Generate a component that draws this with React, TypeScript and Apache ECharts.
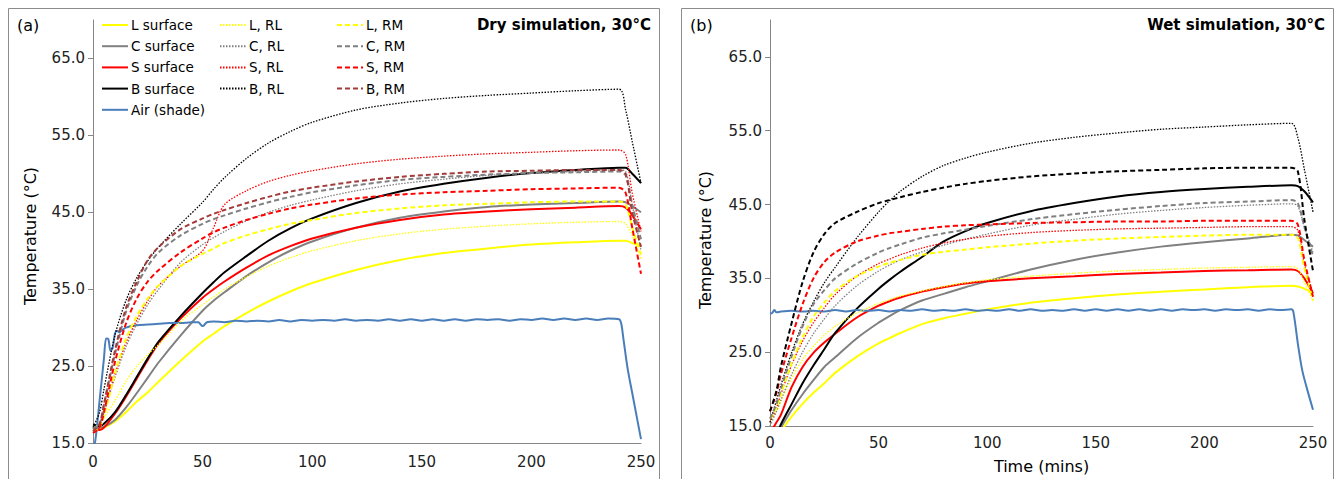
import React, { useEffect, useRef } from "react";
import * as echarts from "echarts";

// Sample times (minutes) shared by the surface / RL / RM traces
const TIME = [0, 3, 5, 10, 15, 20, 25, 30, 40, 50, 55, 60, 70, 80, 90, 100, 120, 140, 160, 180, 200, 220, 240, 243, 246, 250];

// ---- (a) Dry simulation, 30°C ----
const A_L_SURF = [17.0, 16.9, 17.0, 17.8, 19.0, 20.4, 21.6, 23.0, 25.7, 28.2, 29.2, 30.2, 31.9, 33.4, 34.7, 35.8, 37.5, 38.8, 39.7, 40.3, 40.8, 41.1, 41.3, 41.3, 41.0, 40.6];
const A_C_SURF = [17.2, 17.0, 17.1, 18.0, 19.6, 21.5, 23.5, 25.5, 29.0, 32.2, 33.5, 34.6, 36.7, 38.5, 40.0, 41.2, 43.0, 44.3, 45.1, 45.7, 46.0, 46.2, 46.4, 46.3, 45.8, 45.0];
const A_S_SURF = [16.9, 16.7, 17.0, 18.8, 21.0, 23.4, 25.8, 28.0, 31.2, 33.9, 35.0, 36.0, 37.8, 39.4, 40.6, 41.6, 43.0, 44.0, 44.7, 45.1, 45.4, 45.6, 45.8, 45.6, 44.6, 42.8];
const A_B_SURF = [17.4, 17.2, 17.5, 19.0, 21.2, 23.6, 26.0, 28.2, 31.5, 34.5, 35.9, 37.2, 39.3, 41.3, 42.9, 44.2, 46.2, 47.7, 48.7, 49.5, 50.1, 50.5, 50.8, 50.8, 50.0, 48.8];
const A_L_RL = [17.0, 17.5, 18.3, 20.5, 23.0, 25.0, 26.5, 27.8, 30.8, 33.0, 34.0, 35.0, 36.6, 38.0, 39.1, 40.0, 41.3, 42.2, 42.8, 43.2, 43.5, 43.7, 43.8, 43.5, 42.0, 39.0];
const A_C_RL = [16.8, 17.5, 19.0, 23.5, 27.5, 30.5, 33.0, 35.0, 38.5, 40.8, 41.7, 42.5, 43.9, 45.0, 45.9, 46.6, 47.8, 48.7, 49.3, 49.8, 50.1, 50.3, 50.5, 50.3, 46.0, 40.0];
const A_S_RL = [16.5, 17.0, 19.0, 24.0, 28.0, 31.0, 33.5, 35.5, 38.0, 40.0, 43.0, 46.0, 47.8, 49.0, 49.8, 50.4, 51.3, 51.9, 52.3, 52.6, 52.8, 53.0, 53.1, 52.5, 47.5, 42.5];
const A_B_RL = [17.0, 19.0, 22.0, 29.0, 33.5, 36.5, 38.7, 40.5, 43.5, 46.3, 48.0, 49.5, 52.0, 54.0, 55.5, 56.7, 58.3, 59.2, 59.8, 60.2, 60.5, 60.8, 61.0, 58.3, 54.2, 48.8];
const A_L_RM = [16.5, 17.0, 18.5, 24.0, 28.5, 31.5, 33.8, 35.5, 38.0, 39.6, 40.3, 41.0, 42.0, 42.8, 43.5, 44.0, 44.9, 45.5, 45.9, 46.1, 46.3, 46.4, 46.4, 46.0, 43.0, 39.5];
const A_C_RM = [16.8, 17.5, 20.0, 26.5, 32.0, 35.5, 38.0, 39.8, 42.0, 43.5, 44.1, 44.6, 45.5, 46.3, 47.0, 47.6, 48.5, 49.2, 49.6, 49.9, 50.1, 50.2, 50.3, 49.8, 46.0, 41.5];
const A_S_RM = [16.3, 17.0, 19.0, 25.5, 30.5, 33.8, 36.0, 37.5, 39.8, 41.6, 42.4, 43.0, 44.0, 44.8, 45.5, 46.0, 46.8, 47.3, 47.6, 47.8, 48.0, 48.1, 48.2, 47.5, 43.0, 37.0];
const A_B_RM = [16.5, 17.5, 20.0, 27.0, 32.5, 36.0, 38.8, 40.5, 42.8, 44.2, 44.8, 45.3, 46.2, 47.0, 47.7, 48.2, 49.0, 49.6, 50.0, 50.3, 50.4, 50.5, 50.5, 50.0, 45.0, 40.5];

const A_AIR_TIME = [0, 1, 3, 5, 6, 7, 8, 9, 10, 11, 12, 13, 15, 20, 25, 30, 35, 40, 45, 48, 50, 52, 55, 60, 65, 70, 75, 80, 85, 90, 95, 100, 105, 110, 115, 120, 125, 130, 135, 140, 145, 150, 155, 160, 165, 170, 175, 180, 185, 190, 195, 200, 205, 210, 215, 220, 225, 230, 235, 240, 241, 242, 244, 246, 248, 250];
const A_AIR = [14.5, 15.2, 20.5, 26.0, 28.6, 28.5, 27.0, 27.4, 29.2, 29.6, 29.4, 29.6, 30.0, 30.3, 30.4, 30.5, 30.6, 30.6, 30.7, 30.7, 30.2, 30.7, 30.8, 30.7, 30.9, 30.8, 30.9, 30.8, 31.0, 30.8, 31.0, 30.9, 31.0, 30.9, 31.1, 30.9, 31.0, 30.9, 31.1, 30.9, 31.1, 30.9, 31.1, 30.9, 31.1, 30.9, 31.1, 31.0, 31.1, 30.9, 31.1, 31.0, 31.2, 31.0, 31.2, 31.0, 31.2, 31.0, 31.2, 31.1, 30.5, 28.5, 24.5, 21.5, 18.5, 15.5];

// ---- (b) Wet simulation, 30°C ----
const B_L_SURF = [12.5, 13.5, 14.3, 16.3, 18.0, 19.5, 20.8, 22.2, 24.4, 26.2, 26.9, 27.6, 28.8, 29.6, 30.2, 30.8, 31.7, 32.3, 32.8, 33.2, 33.5, 33.8, 34.0, 33.9, 33.6, 33.0];
const B_C_SURF = [13.0, 14.0, 14.8, 17.2, 19.3, 21.2, 23.0, 24.3, 26.9, 29.0, 29.9, 30.7, 32.0, 32.9, 33.8, 34.6, 36.2, 37.5, 38.5, 39.3, 39.9, 40.4, 40.9, 40.8, 40.2, 39.3];
const B_S_SURF = [14.0, 15.5, 16.5, 20.3, 23.0, 24.9, 26.3, 27.5, 29.7, 31.3, 31.9, 32.4, 33.2, 33.8, 34.3, 34.6, 35.0, 35.3, 35.6, 35.8, 36.0, 36.1, 36.2, 36.0, 35.0, 33.0];
const B_B_SURF = [12.5, 13.8, 15.2, 18.0, 20.8, 23.2, 25.4, 27.6, 30.9, 33.6, 34.8, 35.9, 37.9, 40.0, 41.4, 42.5, 44.1, 45.2, 46.1, 46.7, 47.1, 47.4, 47.6, 47.5, 46.8, 45.3];
const B_L_RL = [15.5, 17.0, 18.3, 21.5, 24.0, 25.8, 27.3, 28.5, 30.3, 31.6, 32.1, 32.6, 33.3, 33.9, 34.4, 34.8, 35.3, 35.7, 36.0, 36.2, 36.4, 36.5, 36.6, 36.3, 34.5, 32.0];
const B_C_RL = [15.0, 17.0, 18.5, 22.0, 25.0, 27.5, 29.5, 31.3, 34.0, 36.0, 36.8, 37.5, 38.6, 39.5, 40.3, 41.0, 42.2, 43.0, 43.7, 44.2, 44.6, 44.9, 45.1, 44.8, 42.0, 38.5];
const B_S_RL = [15.5, 17.5, 19.3, 23.3, 26.5, 29.0, 31.0, 32.8, 35.3, 37.0, 37.6, 38.2, 39.1, 39.8, 40.3, 40.7, 41.2, 41.5, 41.7, 41.8, 41.9, 42.0, 42.0, 41.5, 37.0, 33.0];
const B_B_RL = [15.5, 18.5, 20.5, 25.0, 28.8, 31.8, 34.4, 36.5, 40.5, 44.0, 45.5, 46.8, 48.8, 50.3, 51.3, 52.1, 53.3, 54.1, 54.7, 55.2, 55.5, 55.8, 56.0, 54.1, 49.8, 44.0];
const B_L_RM = [16.0, 17.5, 19.3, 23.5, 27.0, 29.8, 31.7, 33.3, 35.3, 36.6, 37.1, 37.5, 38.2, 38.6, 38.9, 39.2, 39.7, 40.1, 40.4, 40.6, 40.8, 40.9, 40.9, 40.5, 36.5, 32.0];
const B_C_RM = [16.0, 18.0, 20.0, 24.5, 28.5, 31.5, 33.4, 35.0, 37.0, 38.5, 39.1, 39.6, 40.5, 41.1, 41.6, 42.1, 43.0, 43.7, 44.3, 44.8, 45.2, 45.4, 45.6, 45.2, 42.0, 38.0];
const B_S_RM = [17.0, 19.5, 22.0, 27.0, 31.5, 35.0, 37.2, 38.5, 40.0, 40.8, 41.1, 41.3, 41.7, 42.0, 42.2, 42.3, 42.5, 42.6, 42.7, 42.7, 42.8, 42.8, 42.8, 42.3, 37.5, 32.5];
const B_B_RM = [17.0, 19.8, 23.0, 29.0, 34.5, 38.5, 41.0, 42.5, 44.0, 45.2, 45.6, 46.0, 46.7, 47.3, 47.8, 48.2, 48.8, 49.2, 49.5, 49.7, 49.9, 50.0, 50.0, 49.5, 43.0, 36.0];

const B_AIR_TIME = [0, 1, 2, 3, 5, 10, 15, 20, 25, 30, 35, 40, 45, 50, 55, 60, 65, 70, 75, 80, 85, 90, 95, 100, 105, 110, 115, 120, 125, 130, 135, 140, 145, 150, 155, 160, 165, 170, 175, 180, 185, 190, 195, 200, 205, 210, 215, 220, 225, 230, 235, 240, 241, 243, 245, 247, 250];
const B_AIR = [30.2, 30.3, 30.7, 30.4, 30.5, 30.6, 30.5, 30.6, 30.5, 30.7, 30.5, 30.7, 30.6, 30.7, 30.5, 30.7, 30.6, 30.8, 30.6, 30.7, 30.6, 30.8, 30.6, 30.7, 30.6, 30.8, 30.6, 30.8, 30.6, 30.7, 30.6, 30.8, 30.6, 30.8, 30.6, 30.8, 30.6, 30.8, 30.6, 30.8, 30.6, 30.8, 30.7, 30.8, 30.6, 30.8, 30.7, 30.8, 30.6, 30.8, 30.7, 30.8, 30.4, 26.2, 22.6, 20.3, 17.2];

// Axis ticks
const X_TICKS = [0, 50, 100, 150, 200, 250];
const Y_TICKS = [15, 25, 35, 45, 55, 65];

const FONT = "DejaVu Sans";
const AXIS_GRAY = "#868686";

const COLORS = {
  L: "#FFFF00",
  C: "#808080",
  S: "#FF0000",
  B: "#000000",
  air: "#4A7EBB",
  bRmDry: "#A33B3B",
};

type Kind = "solid" | "dotted" | "dashed";

function lineSeries(
  name: string,
  times: number[],
  values: number[],
  axis: number,
  color: string,
  kind: Kind
) {
  const width = kind === "dotted" ? 1.3 : 2;
  const type = kind === "solid" ? "solid" : kind === "dotted" ? [1.5, 1.5] : [5, 3];
  return {
    name,
    type: "line",
    xAxisIndex: axis,
    yAxisIndex: axis,
    data: times.map((t, i) => [t, values[i]]),
    showSymbol: false,
    symbol: "none",
    smooth: 0.3,
    clip: true,
    lineStyle: { color, width, type },
    itemStyle: { color },
    emphasis: { disabled: true },
  };
}

function panelSeries(
  axis: number,
  surf: number[][],
  rl: number[][],
  rm: number[][],
  airT: number[],
  air: number[],
  bRmColor: string
) {
  return [
    lineSeries("L surface", TIME, surf[0], axis, COLORS.L, "solid"),
    lineSeries("C surface", TIME, surf[1], axis, COLORS.C, "solid"),
    lineSeries("S surface", TIME, surf[2], axis, COLORS.S, "solid"),
    lineSeries("B surface", TIME, surf[3], axis, COLORS.B, "solid"),
    lineSeries("Air (shade)", airT, air, axis, COLORS.air, "solid"),
    lineSeries("L, RL", TIME, rl[0], axis, COLORS.L, "dotted"),
    lineSeries("C, RL", TIME, rl[1], axis, COLORS.C, "dotted"),
    lineSeries("S, RL", TIME, rl[2], axis, COLORS.S, "dotted"),
    lineSeries("B, RL", TIME, rl[3], axis, COLORS.B, "dotted"),
    lineSeries("L, RM", TIME, rm[0], axis, COLORS.L, "dashed"),
    lineSeries("C, RM", TIME, rm[1], axis, COLORS.C, "dashed"),
    lineSeries("S, RM", TIME, rm[2], axis, COLORS.S, "dashed"),
    lineSeries("B, RM", TIME, rm[3], axis, bRmColor, "dashed"),
  ];
}

function xAxis(grid: number, margin: number, name?: string) {
  return {
    type: "value",
    gridIndex: grid,
    min: 0,
    max: 250,
    interval: 50,
    name: name || "",
    nameLocation: "middle",
    nameGap: 32,
    nameTextStyle: { fontFamily: FONT, fontSize: 16, color: "#000" },
    axisLine: { show: true, onZero: false, lineStyle: { color: AXIS_GRAY, width: 1 } },
    axisTick: { show: false },
    splitLine: { show: false },
    axisLabel: {
      fontFamily: FONT,
      fontSize: 15,
      color: "#222",
      margin,
      customValues: X_TICKS,
    },
  };
}

function yAxis(grid: number) {
  return {
    type: "value",
    gridIndex: grid,
    min: 15,
    max: 70,
    axisLine: { show: true, lineStyle: { color: AXIS_GRAY, width: 1 } },
    axisTick: { show: true, length: 5, lineStyle: { color: AXIS_GRAY }, customValues: Y_TICKS },
    splitLine: { show: false },
    axisLabel: {
      fontFamily: FONT,
      fontSize: 15,
      color: "#222",
      margin: 8,
      customValues: Y_TICKS,
      formatter: (v: number) => v.toFixed(1),
    },
  };
}

function legend(left: number, names: string[]) {
  return {
    show: true,
    orient: "vertical",
    left,
    top: 18,
    itemWidth: 26,
    itemHeight: 14,
    itemGap: 7.2,
    padding: 0,
    selectedMode: false,
    // line-only keys: hide the marker symbol drawn on top of each key line
    itemStyle: { opacity: 0 },
    textStyle: { fontFamily: FONT, fontSize: 13.5, color: "#000", padding: [0, 0, 0, -2] },
    data: names,
  };
}

export default function App() {
  const ref = useRef<HTMLDivElement>(null);

  useEffect(() => {
    document.body.style.margin = "0";
    const chart = echarts.init(ref.current!, null, { renderer: "svg" });

    const option = {
      animation: false,
      backgroundColor: "#ffffff",
      textStyle: { fontFamily: FONT },
      grid: [
        { left: 93, top: 20, width: 548, height: 423 },
        { left: 770, top: 20, width: 543, height: 406 },
      ],
      xAxis: [xAxis(0, 11), xAxis(1, 9, "Time (mins)")],
      yAxis: [yAxis(0), yAxis(1)],
      legend: [
        legend(101, ["L surface", "C surface", "S surface", "B surface", "Air (shade)"]),
        legend(219, ["L, RL", "C, RL", "S, RL", "B, RL"]),
        legend(336, ["L, RM", "C, RM", "S, RM", "B, RM"]),
      ],
      graphic: [
        {
          type: "rect",
          silent: true,
          shape: { x: 8.5, y: 8.5, width: 651, height: 490 },
          style: { fill: "none", stroke: "#8c8c8c", lineWidth: 1 },
        },
        {
          type: "rect",
          silent: true,
          shape: { x: 681.5, y: 8.5, width: 652, height: 490 },
          style: { fill: "none", stroke: "#8c8c8c", lineWidth: 1 },
        },
        {
          type: "text",
          x: 17,
          y: 25,
          style: { text: "(a)", fontFamily: FONT, fontSize: 16, fill: "#000", verticalAlign: "middle" },
        },
        {
          type: "text",
          x: 690,
          y: 25,
          style: { text: "(b)", fontFamily: FONT, fontSize: 16, fill: "#000", verticalAlign: "middle" },
        },
        {
          type: "text",
          x: 651,
          y: 25,
          style: {
            text: "Dry simulation, 30°C",
            fontFamily: FONT,
            fontSize: 15,
            fontWeight: "bold",
            fill: "#000",
            align: "right",
            verticalAlign: "middle",
          },
        },
        {
          type: "text",
          x: 1325,
          y: 25,
          style: {
            text: "Wet simulation, 30°C",
            fontFamily: FONT,
            fontSize: 15,
            fontWeight: "bold",
            fill: "#000",
            align: "right",
            verticalAlign: "middle",
          },
        },
        {
          type: "text",
          x: 30,
          y: 236,
          rotation: Math.PI / 2,
          style: {
            text: "Temperature (°C)",
            fontFamily: FONT,
            fontSize: 16,
            fill: "#000",
            align: "center",
            verticalAlign: "middle",
          },
        },
        {
          type: "text",
          x: 705,
          y: 240,
          rotation: Math.PI / 2,
          style: {
            text: "Temperature (°C)",
            fontFamily: FONT,
            fontSize: 16,
            fill: "#000",
            align: "center",
            verticalAlign: "middle",
          },
        },
      ],
      series: [
        ...panelSeries(
          0,
          [A_L_SURF, A_C_SURF, A_S_SURF, A_B_SURF],
          [A_L_RL, A_C_RL, A_S_RL, A_B_RL],
          [A_L_RM, A_C_RM, A_S_RM, A_B_RM],
          A_AIR_TIME,
          A_AIR,
          COLORS.bRmDry
        ),
        ...panelSeries(
          1,
          [B_L_SURF, B_C_SURF, B_S_SURF, B_B_SURF],
          [B_L_RL, B_C_RL, B_S_RL, B_B_RL],
          [B_L_RM, B_C_RM, B_S_RM, B_B_RM],
          B_AIR_TIME,
          B_AIR,
          COLORS.B
        ),
      ],
    };

    chart.setOption(option as any);
    return () => chart.dispose();
  }, []);

  return <div ref={ref} style={{ width: 1338, height: 479 }} />;
}
